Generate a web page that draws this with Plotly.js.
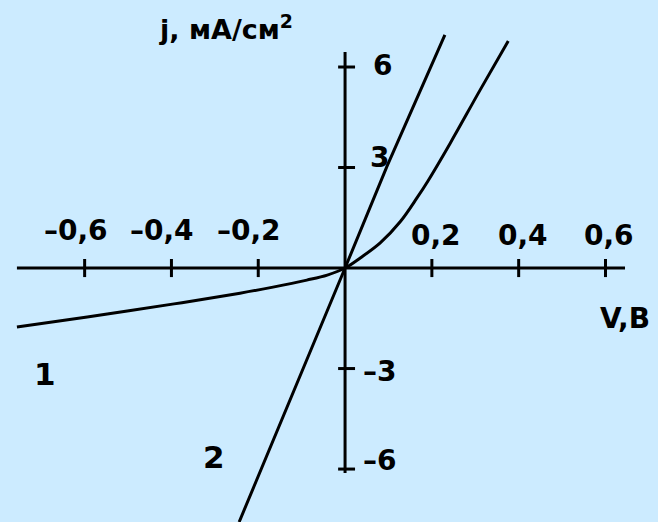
<!DOCTYPE html>
<html>
<head>
<meta charset="utf-8">
<script src="https://cdn.plot.ly/plotly-3.0.1.min.js"></script>
<style>
  html, body { margin: 0; padding: 0; background: #CCEBFF; }
  #chart { width: 658px; height: 522px; }
</style>
</head>
<body>
<div id="chart"></div>
<script>
// Current-voltage characteristics, j (mA/cm^2) vs V (V)
const curve1V = [-0.756, -0.594, -0.394, -0.242, -0.166, -0.088, -0.041, 0, 0.035, 0.081, 0.127, 0.166, 0.191, 0.242, 0.311, 0.376];
const curve1J = [-1.76, -1.46, -1.07, -0.75, -0.57, -0.36, -0.21, 0, 0.30, 0.75, 1.38, 2.10, 2.60, 3.72, 5.31, 6.78];
const curve2V = [-0.244, -0.12, 0, 0.097, 0.230];
const curve2J = [-7.58, -3.75, 0, 3.05, 6.96];

const xTickVals = [-0.6, -0.4, -0.2, 0.2, 0.4, 0.6];
const xTickText = ['–0,6', '–0,4', '–0,2', '0,2', '0,4', '0,6'];
const yTickVals = [6, 3, -3, -6];
const yTickText = ['6', '3', '–3', '–6'];

const curveLabels = ['1', '2'];
const curveLabelV = [-0.691, -0.302];
const curveLabelJ = [-3.16, -5.64];

const xAxisSpan = [-0.756, 0.645];
const yAxisSpan = [-6.12, 6.45];

const FONT = 'DejaVu Sans, Arial, sans-serif';
const INK = '#000000';

const line = { color: INK, width: 3 };
const traces = [
  { x: curve1V, y: curve1J, mode: 'lines', line: Object.assign({ shape: 'spline', smoothing: 1 }, line), hoverinfo: 'skip' },
  { x: curve2V, y: curve2J, mode: 'lines', line: line, hoverinfo: 'skip' }
];

const shapes = [
  // axes crossing at the origin
  { type: 'line', xref: 'x', yref: 'y', x0: xAxisSpan[0], x1: xAxisSpan[1], y0: 0, y1: 0, line: line },
  { type: 'line', xref: 'x', yref: 'y', x0: 0, x1: 0, y0: yAxisSpan[0], y1: yAxisSpan[1], line: line }
];
xTickVals.forEach(v => shapes.push({ type: 'line', xref: 'x', yref: 'y', x0: v, x1: v, y0: -0.27, y1: 0.27, line: line }));
yTickVals.forEach(v => shapes.push({ type: 'line', xref: 'x', yref: 'y', x0: -0.016, x1: 0.023, y0: v, y1: v, line: line }));

const annotations = [];
const tickFont = { family: FONT, size: 28, color: INK, weight: 'bold' };
xTickVals.forEach((v, i) => annotations.push({
  x: v, y: 0, xref: 'x', yref: 'y', text: xTickText[i], showarrow: false,
  xanchor: 'center', yanchor: 'middle', xshift: v < 0 ? -9 : 4, yshift: v < 0 ? 38 : 33, font: tickFont
}));
const yLabelShift = { '6': [26, 2], '3': [23, 10], '-3': [16, -3], '-6': [16, 9] };
yTickVals.forEach((v, i) => annotations.push({
  x: 0, y: v, xref: 'x', yref: 'y', text: yTickText[i], showarrow: false,
  xanchor: 'left', yanchor: 'middle', xshift: yLabelShift[String(v)][0], yshift: yLabelShift[String(v)][1], font: tickFont
}));
curveLabels.forEach((t, i) => annotations.push({
  x: curveLabelV[i], y: curveLabelJ[i], xref: 'x', yref: 'y', text: t, showarrow: false,
  xanchor: 'center', yanchor: 'middle', font: { family: FONT, size: 31, color: INK, weight: 'bold' }
}));
annotations.push({
  x: 0, y: 1, xref: 'x', yref: 'paper', text: 'j, мА/см<sup>2</sup>', showarrow: false,
  xanchor: 'right', yanchor: 'top', xshift: -50, yshift: -8,
  font: { family: FONT, size: 27, color: INK, weight: 'bold' }
});
annotations.push({
  x: 1, y: 0, xref: 'paper', yref: 'y', text: 'V,В', showarrow: false,
  xanchor: 'right', yanchor: 'middle', xshift: -6, yshift: -50,
  font: { family: FONT, size: 28, color: INK, weight: 'bold' }
});

const layout = {
  width: 658, height: 522,
  margin: { l: 0, r: 0, t: 0, b: 0 },
  paper_bgcolor: '#CCEBFF', plot_bgcolor: '#CCEBFF',
  showlegend: false,
  xaxis: { range: [-0.795, 0.721], visible: false, fixedrange: true },
  yaxis: { range: [-7.58, 8.0], visible: false, fixedrange: true },
  shapes: shapes,
  annotations: annotations
};

Plotly.newPlot('chart', traces, layout, { displayModeBar: false, staticPlot: true });
</script>
</body>
</html>
